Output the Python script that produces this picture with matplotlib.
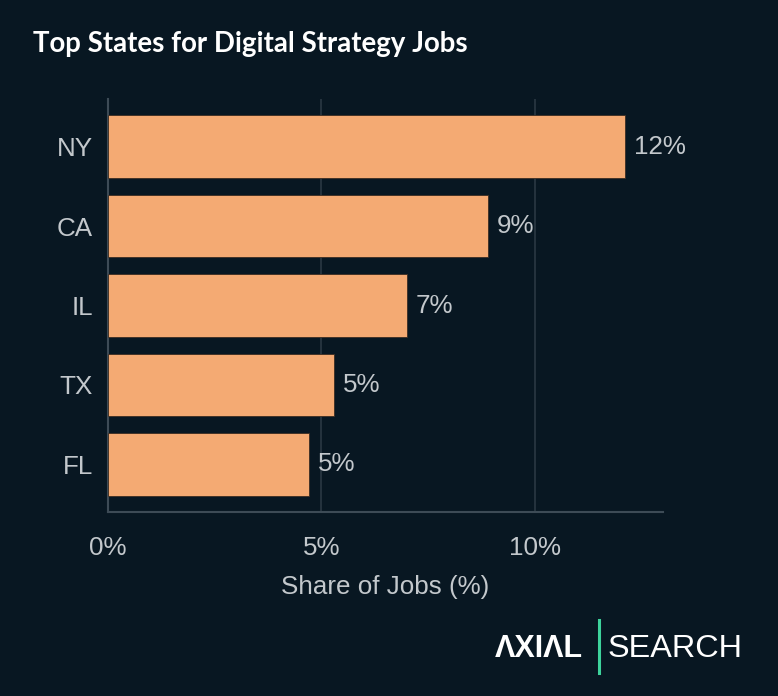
import matplotlib
matplotlib.use("Agg")
import matplotlib.pyplot as plt
from matplotlib.ticker import FuncFormatter

states = ["NY", "CA", "IL", "TX", "FL"]
shares = [12.1, 8.9, 7.0, 5.3, 4.7]
labels = ["12%", "9%", "7%", "5%", "5%"]
xticks = [0, 5, 10]

BG = "#081722"
BAR = "#F4AA73"
TXT = "#C3C8CC"
GRID = "#2A3843"
SPINE = "#3D4B56"

W, H = 778, 696
fig = plt.figure(figsize=(W / 100, H / 100), dpi=100, facecolor=BG)
ax = fig.add_axes([108 / W, 1 - 512 / H, (663 - 108) / W, (512 - 99) / H], facecolor=BG)

ypos = list(range(len(states)))
ax.barh(ypos, shares, height=0.79, color=BAR, edgecolor="#3a2c22", linewidth=0.6, zorder=3)
ax.set_ylim(len(states) - 0.4, -0.6)
ax.set_xlim(0, 13)
ax.set_yticks(ypos)
ax.set_yticklabels(states)
ax.set_xticks(xticks)
ax.xaxis.set_major_formatter(FuncFormatter(lambda v, p: f"{v:.0f}%"))

for y, v, lab in zip(ypos, shares, labels):
    ax.annotate(lab, (v, y), xytext=(9, 0), textcoords="offset pixels",
                va="center", ha="left", color=TXT, fontsize=18.7, family="Liberation Sans")

for s in ["top", "right"]:
    ax.spines[s].set_visible(False)
for s in ["left", "bottom"]:
    ax.spines[s].set_color(SPINE)
    ax.spines[s].set_linewidth(1.5)

ax.grid(axis="x", color=GRID, linewidth=1.2, zorder=0)
ax.tick_params(axis="both", length=0, labelcolor=TXT, labelsize=18.7)
ax.tick_params(axis="x", pad=17)
ax.tick_params(axis="y", pad=11)
for t in ax.get_xticklabels() + ax.get_yticklabels():
    t.set_family("Liberation Sans")

ax.set_xlabel("Share of Jobs (%)", color=TXT, fontsize=18.7, family="Liberation Sans", labelpad=11)

fig.text(33 / W, 1 - 44 / H, "Top States for Digital Strategy Jobs", color="white",
         fontsize=19.9, fontweight="bold", family="Lato", va="center", ha="left")

# logo
fig.text(495 / W, 1 - 649 / H, "\u039bXI\u039bL", color="white", fontsize=22,
         fontweight="bold", family="Liberation Sans", va="center", ha="left")
fig.add_artist(plt.Line2D([599 / W, 599 / W], [1 - 620 / H, 1 - 673 / H], color="#3DD39C",
                          linewidth=2.2, transform=fig.transFigure))
fig.text(608 / W, 1 - 649 / H, "SEARCH", color="white", fontsize=23.3,
         family="Liberation Sans", va="center", ha="left")

fig.savefig("out.png", dpi=100, facecolor=BG)
